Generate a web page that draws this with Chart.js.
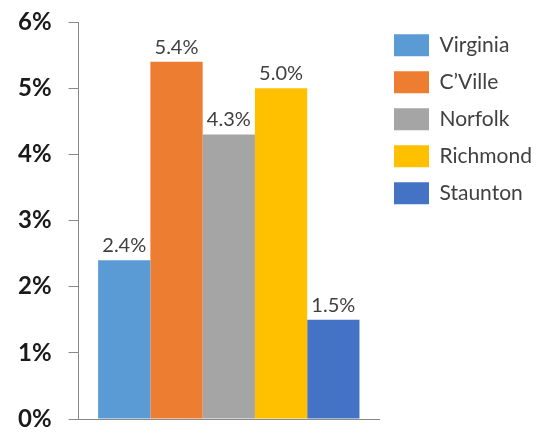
<!DOCTYPE html>
<html>
<head>
<meta charset="utf-8">
<script src="https://cdn.jsdelivr.net/npm/chart.js@4/dist/chart.umd.min.js"></script>
<style>
  html, body { margin: 0; padding: 0; background: #fff; }
  #wrap { width: 536px; height: 433px; }
</style>
</head>
<body>
<div id="wrap"><canvas id="chart"></canvas></div>
<script>
// series names, values (percent) and colours
const places = ["Virginia", "C\u2019Ville", "Norfolk", "Richmond", "Staunton"];
const rates = [2.4, 5.4, 4.3, 5.0, 1.5];
const colors = ["#5B9BD5", "#ED7D31", "#A5A5A5", "#FFC000", "#4472C4"];
const yTicks = [0, 1, 2, 3, 4, 5, 6];

// value labels above each bar
const barLabels = {
    id: "barLabels",
    afterDatasetsDraw(chart) {
        const ctx = chart.ctx;
        ctx.save();
        ctx.font = "20px Lato";
        ctx.fillStyle = "#404040";
        ctx.textAlign = "center";
        ctx.textBaseline = "alphabetic";
        chart.data.datasets.forEach((ds, i) => {
            chart.getDatasetMeta(i).data.forEach((bar, j) => {
                ctx.fillText(ds.data[j].toFixed(1) + "%", bar.x, bar.y - 8);
            });
        });
        ctx.restore();
    }
};

new Chart(document.getElementById("chart"), {
    type: "bar",
    data: {
        labels: [""],
        datasets: places.map((name, i) => ({
            label: name,
            data: [rates[i]],
            backgroundColor: colors[i],
            barPercentage: 1,
            categoryPercentage: 0.87
        }))
    },
    options: {
        responsive: true,
        maintainAspectRatio: false,
        animation: false,
        layout: { padding: { top: 0, left: 1, bottom: 0, right: 0 } },
        plugins: {
            legend: {
                position: "right",
                align: "start",
                maxWidth: 157,
                // empty title only pushes the items down
                title: { display: true, text: "", font: { size: 1 }, padding: { top: 0, bottom: 18 } },
                labels: {
                    boxWidth: 35,
                    boxHeight: 22,
                    padding: 15,
                    color: "#404040",
                    font: { family: "Lato", size: 21 }
                }
            },
            tooltip: { enabled: false }
        },
        scales: {
            x: {
                ticks: { display: false },
                grid: { display: false },
                border: { display: true, color: "#888", width: 1 }
            },
            y: {
                min: 0,
                max: 6,
                afterBuildTicks: (axis) => {
                    axis.ticks = yTicks.map(v => ({ value: v }));
                },
                // keep the plot area close to the top and bottom edges
                afterFit: (axis) => {
                    axis.paddingTop = 22;
                    axis.paddingBottom = 14;
                },
                ticks: {
                    callback: (v) => v + "%",
                    color: "#1a1a1a",
                    padding: 17,
                    font: { family: "Lato", size: 24, weight: "bold" }
                },
                grid: {
                    drawOnChartArea: false,
                    drawTicks: true,
                    tickLength: 10,
                    color: "#888"
                },
                border: { display: true, color: "#888", width: 1 }
            }
        }
    },
    plugins: [barLabels]
});
</script>
</body>
</html>
